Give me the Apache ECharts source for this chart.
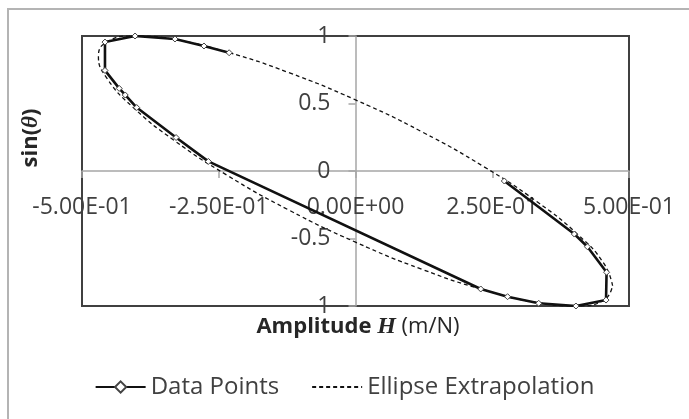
<!DOCTYPE html>
<html>
<head>
<meta charset="utf-8">
<script src="https://cdn.jsdelivr.net/npm/echarts@6/dist/echarts.min.js"></script>
<style>
  html, body { margin: 0; padding: 0; background: #fff; }
  #chart { width: 689px; height: 419px; }
</style>
</head>
<body>
<div id="chart"></div>
<script>
// Measured points (amplitude H in m/N, sin(theta))
const dataH = [-0.231, -0.277, -0.330, -0.403, -0.458, -0.458, -0.432, -0.421, -0.400, -0.328, -0.269,
               0.229, 0.278, 0.335, 0.403, 0.458, 0.459, 0.424, 0.400, 0.272];
const dataSin = [0.876, 0.926, 0.978, 1.000, 0.955, 0.745, 0.612, 0.563, 0.470, 0.248, 0.071,
                 -0.874, -0.931, -0.980, -1.000, -0.956, -0.750, -0.561, -0.467, -0.074];

// Fitted ellipse outline
const ellipseH = [0.470, 0.454, 0.407, 0.332, 0.235, 0.122, 0.000, -0.122, -0.235, -0.332, -0.407, -0.454,
                  -0.470, -0.454, -0.407, -0.332, -0.235, -0.122, 0.000, 0.122, 0.235, 0.332, 0.407, 0.454, 0.470];
const ellipseSin = [-0.850, -0.685, -0.473, -0.228, 0.031, 0.289, 0.527, 0.729, 0.881, 0.974, 1.000, 0.957,
                    0.850, 0.685, 0.473, 0.228, -0.031, -0.289, -0.527, -0.729, -0.881, -0.974, -1.000, -0.957, -0.850];

// Axis ticks and their labels
const xTicks = [-0.5, -0.25, 0, 0.25, 0.5];
const xTickLabels = ['-5.00E-01', '-2.50E-01', '0.00E+00', '2.50E-01', '5.00E-01'];
const yTicks = [-1, -0.5, 0, 0.5, 1];
const yTickLabels = ['-1', '-0.5', '0', '0.5', '1'];

const seriesNames = ['Data Points', 'Ellipse Extrapolation'];

const FONT = '"Open Sans", "Liberation Sans", sans-serif';
const TEXT = '#404040';
const LABEL_SIZE = 23;
const LABEL_GAP = 25;

// Plot area box (px)
const PLOT = { left: 82, top: 36, right: 629, bottom: 306 };
const zeroX = (PLOT.left + PLOT.right) / 2;   // H = 0 sits mid-width
const zeroY = (PLOT.top + PLOT.bottom) / 2;   // sin = 0 sits mid-height

function pickLabel(ticks, labels, v) {
  for (let i = 0; i < ticks.length; i++) {
    if (Math.abs(ticks[i] - v) < 1e-6) return labels[i];
  }
  return '';
}

// inner y labels go through the axis; the two end labels are placed separately
const yInner = yTicks.filter(v => Math.abs(v) < 1);
const yEnds = yTicks.filter(v => Math.abs(v) >= 1);

const axisGray = { color: '#a6a6a6', width: 1.5 };

const chart = echarts.init(document.getElementById('chart'), null, { renderer: 'canvas' });

const frameGraphics = [
  {
    type: 'rect',
    silent: true,
    shape: { x: 8, y: 9, width: 720, height: 460 },
    style: { fill: 'none', stroke: '#b4b4b4', lineWidth: 2 }
  },
  {
    type: 'text',
    silent: true,
    x: 358, y: 327,
    style: {
      text: '{b|Amplitude }{h|H}{r| (m/N)}',
      align: 'center',
      verticalAlign: 'middle',
      rich: {
        b: { fontFamily: FONT, fontSize: 22, fontWeight: 'bold', fill: '#262626' },
        h: { fontFamily: '"Liberation Serif", serif', fontSize: 24, fontWeight: 'bold', fontStyle: 'italic', fill: '#262626' },
        r: { fontFamily: FONT, fontSize: 22, fill: '#262626' }
      }
    }
  },
  {
    type: 'text',
    silent: true,
    x: 31, y: 138,
    rotation: Math.PI / 2,
    style: {
      text: '{b|sin(}{t|θ}{b|)}',
      align: 'center',
      verticalAlign: 'middle',
      rich: {
        b: { fontFamily: FONT, fontSize: 22, fontWeight: 'bold', fill: '#262626' },
        t: { fontFamily: '"Liberation Serif", serif', fontSize: 23, fontWeight: 'bold', fontStyle: 'italic', fill: '#262626' }
      }
    }
  }
];

chart.setOption({
  animation: false,
  backgroundColor: '#ffffff',
  grid: {
    left: PLOT.left, right: 689 - PLOT.right, top: PLOT.top, bottom: 419 - PLOT.bottom,
    show: true,
    borderColor: '#404040',
    borderWidth: 2,
    backgroundColor: 'transparent'
  },
  xAxis: [
    {
      type: 'value',
      min: -0.5, max: 0.5, interval: 0.25,
      axisLine: { show: true, onZero: true, lineStyle: axisGray },
      axisTick: { show: true, length: 7, lineStyle: axisGray },
      splitLine: { show: false },
      axisLabel: { show: false }
    },
    {
      // label strip placed just under the zero line
      type: 'value',
      position: 'bottom',
      offset: -(PLOT.bottom - zeroY),
      min: -0.5, max: 0.5, interval: 0.25,
      axisLine: { show: false, onZero: false },
      axisTick: { show: false },
      splitLine: { show: false },
      axisLabel: {
        margin: LABEL_GAP,
        align: 'center',
        fontFamily: FONT, fontSize: LABEL_SIZE, lineHeight: LABEL_SIZE, color: TEXT,
        formatter: v => pickLabel(xTicks, xTickLabels, v)
      }
    }
  ],
  yAxis: [
    {
      type: 'value',
      min: -1, max: 1, interval: 0.5,
      axisLine: { show: true, onZero: true, lineStyle: axisGray },
      axisTick: { show: true, length: 7, lineStyle: axisGray },
      splitLine: { show: false },
      axisLabel: { show: false }
    },
    {
      // label strip placed just left of the zero line
      type: 'value',
      position: 'left',
      offset: -(zeroX - PLOT.left),
      min: -1, max: 1,
      axisLine: { show: false, onZero: false },
      axisTick: { show: false },
      splitLine: { show: false },
      axisLabel: {
        margin: LABEL_GAP,
        customValues: yInner,
        align: 'right',
        verticalAlign: 'middle',
        fontFamily: FONT, fontSize: LABEL_SIZE, color: TEXT,
        formatter: v => pickLabel(yTicks, yTickLabels, v)
      }
    }
  ],
  legend: {
    data: [
      { name: seriesNames[0] },
      { name: seriesNames[1], itemStyle: { color: 'rgba(0,0,0,0)', borderWidth: 0, opacity: 0 } }
    ],
    left: 'center',
    top: 370,
    itemWidth: 50,
    itemHeight: 14,
    itemGap: 32,
    textStyle: { fontFamily: FONT, fontSize: 24, color: TEXT }
  },
  graphic: frameGraphics,
  series: [
    {
      name: seriesNames[0],
      type: 'line',
      xAxisIndex: 0, yAxisIndex: 0,
      data: dataH.map((h, i) => [h, dataSin[i]]),
      symbol: 'diamond',
      symbolSize: 6,
      showSymbol: true,
      smooth: false,
      z: 3,
      lineStyle: { color: '#111111', width: 2.6 },
      itemStyle: { color: '#ffffff', borderColor: '#444444', borderWidth: 1 }
    },
    {
      name: seriesNames[1],
      type: 'line',
      xAxisIndex: 0, yAxisIndex: 0,
      data: ellipseH.map((h, i) => [h, ellipseSin[i]]),
      symbol: 'none',
      smooth: true,
      z: 2,
      lineStyle: { color: '#111111', width: 1.3, type: [4, 3] },
      itemStyle: { color: '#111111' }
    }
  ]
});

// End labels of the sin axis, positioned through the axis scale
const endLabels = yEnds.map(v => {
  const p = chart.convertToPixel({ xAxisIndex: 0, yAxisIndex: 0 }, [0, v]);
  return {
    type: 'text',
    silent: true,
    z: 1,
    x: p[0] - LABEL_GAP,
    y: p[1],
    style: {
      text: pickLabel(yTicks, yTickLabels, v),
      align: 'right',
      verticalAlign: 'middle',
      fontFamily: FONT,
      fontSize: LABEL_SIZE,
      fill: TEXT
    }
  };
});

chart.setOption({ graphic: frameGraphics.concat(endLabels) }, { replaceMerge: ['graphic'] });
</script>
</body>
</html>
